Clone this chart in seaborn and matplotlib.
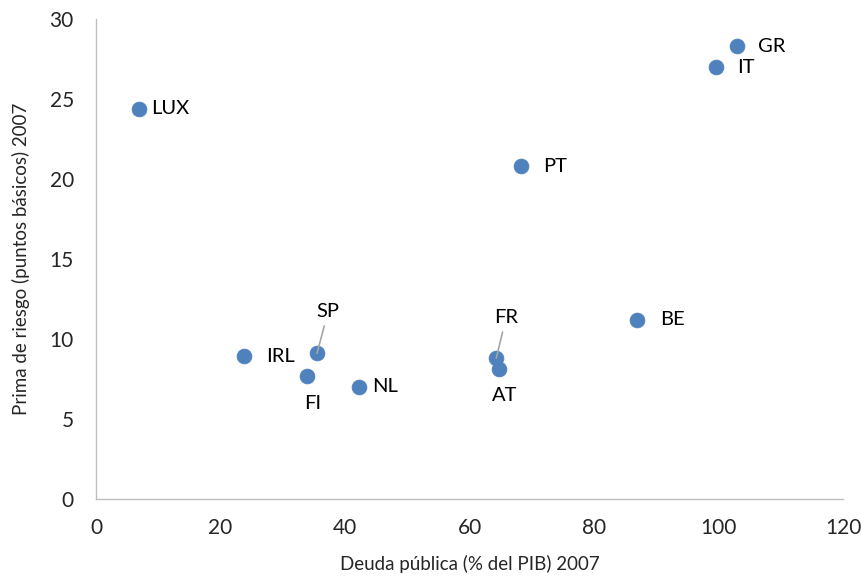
import numpy as np
import pandas as pd
import matplotlib
matplotlib.use("Agg")
import matplotlib.pyplot as plt
import seaborn as sns

countries = ["LUX", "GR", "IT", "PT", "BE", "IRL", "SP", "FI", "NL", "FR", "AT"]
deuda = [6.9, 103.0, 99.6, 68.3, 86.9, 23.8, 35.5, 33.9, 42.2, 64.3, 64.7]
prima = [24.4, 28.3, 27.0, 20.8, 11.2, 8.9, 9.1, 7.7, 7.0, 8.8, 8.1]

# label offsets in points (dx, dy); SP and FR get a leader line
offsets = {
    "LUX": (9, 0), "GR": (15, 0), "IT": (15, 0), "PT": (16, 0), "BE": (17, 0),
    "IRL": (16, 0), "SP": (8, 24), "FI": (4, -20), "NL": (10, 0),
    "FR": (7, 23), "AT": (4, -19),
}
leaders = {"SP", "FR"}

df = pd.DataFrame({"pais": countries, "deuda": deuda, "prima": prima})

sns.set_style("white")
plt.rcParams["font.family"] = ["Lato", "DejaVu Sans"]

fig = plt.figure(figsize=(8.62, 5.78), dpi=100)
ax = fig.add_axes([0.1114, 0.137, 0.8666, 0.830])

sns.scatterplot(data=df, x="deuda", y="prima", ax=ax, color="#4F81BD",
                s=115, edgecolor="#4F81BD", linewidth=0.5, zorder=3)

for _, row in df.iterrows():
    dx, dy = offsets[row["pais"]]
    ha = "left" if dy == 0 else "center"
    if row["pais"] in leaders:
        ax.annotate(row["pais"], (row["deuda"], row["prima"]), xytext=(dx, dy),
                    textcoords="offset points", ha="center", va="bottom",
                    fontsize=14.5, color="#000000",
                    arrowprops=dict(arrowstyle="-", color="#A6A6A6", lw=1.2,
                                    shrinkA=2, shrinkB=0))
    else:
        ax.annotate(row["pais"], (row["deuda"], row["prima"]), xytext=(dx, dy),
                    textcoords="offset points", ha=ha, va="center",
                    fontsize=14.5, color="#000000")

ax.set_xlim(0, 120)
ax.set_ylim(0, 30)
ax.set_xticks(np.arange(0, 121, 20))
ax.set_yticks(np.arange(0, 31, 5))
ax.tick_params(axis="x", length=0, labelsize=15, pad=14)
ax.tick_params(axis="y", length=0, labelsize=15, pad=16)
ax.set_xlabel("Deuda pública (% del PIB) 2007", fontsize=13.5, labelpad=12)
ax.set_ylabel("Prima de riesgo (puntos básicos) 2007", fontsize=13.5, labelpad=14)

for side in ["top", "right"]:
    ax.spines[side].set_visible(False)
for side in ["left", "bottom"]:
    ax.spines[side].set_color("#BFBFBF")
    ax.spines[side].set_linewidth(1.0)

fig.savefig("out.png", dpi=100)
